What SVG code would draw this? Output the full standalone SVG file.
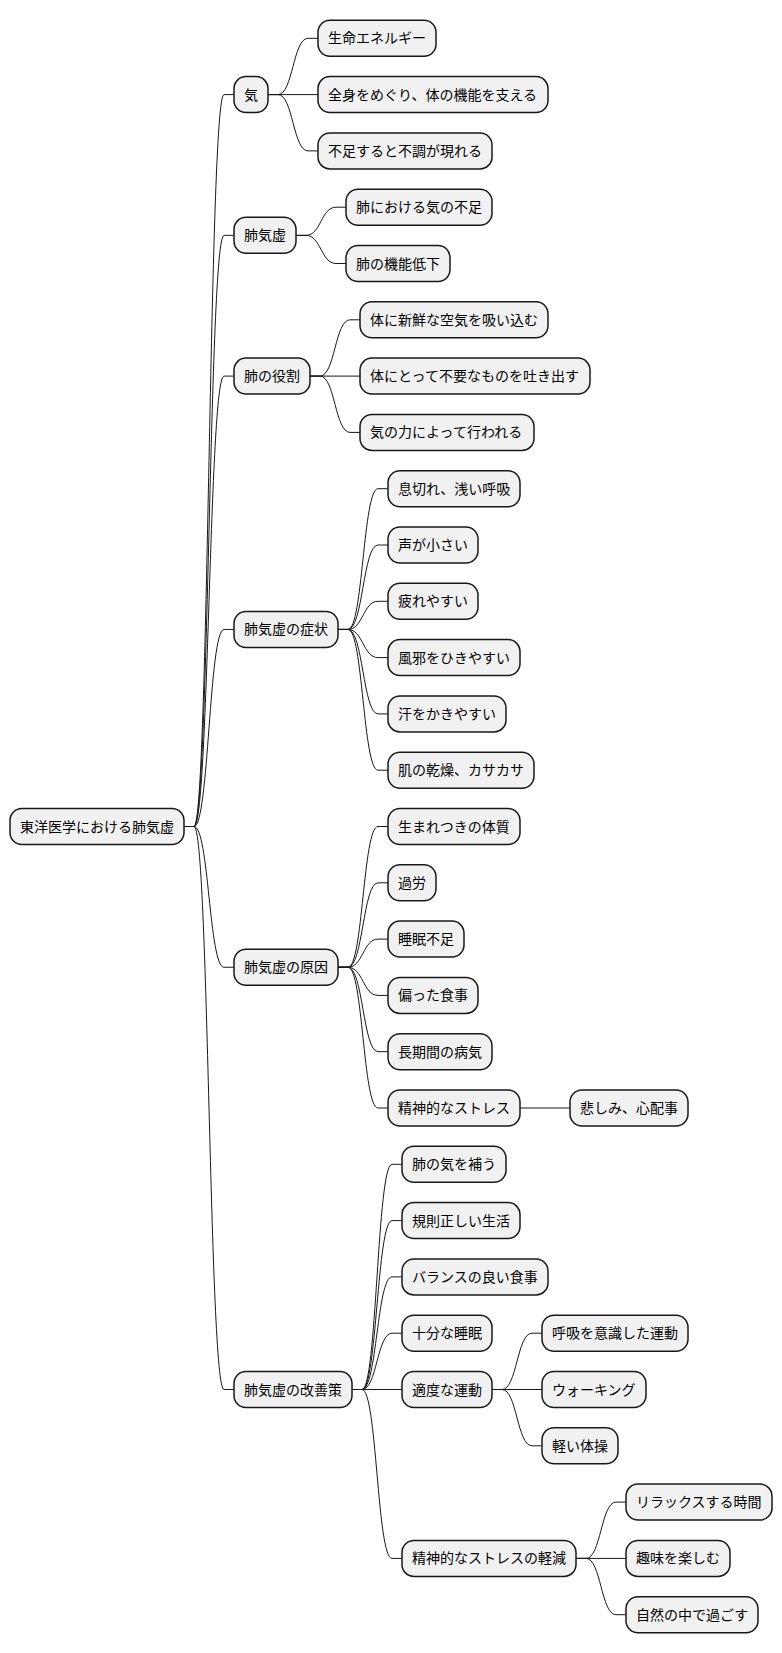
<svg xmlns="http://www.w3.org/2000/svg" width="782" height="1653" viewBox="0 0 782 1653">
<style>
.n rect{fill:#F1F1F1;stroke:#181818;stroke-width:1.5}
.n text{font-family:"Noto Sans CJK JP","Noto Sans",sans-serif;font-size:14px;fill:#000}
#links path{fill:none;stroke:#181818;stroke-width:1}
</style>
<rect width="782" height="1653" fill="#FFFFFF"/>
<g id="links">
<path d="M184,826.5 H194 C209,826.5 209,94.6 224,94.6 H234"/>
<path d="M184,826.5 H194 C209,826.5 209,235.35 224,235.35 H234"/>
<path d="M184,826.5 H194 C209,826.5 209,376.1 224,376.1 H234"/>
<path d="M184,826.5 H194 C209,826.5 209,629.45 224,629.45 H234"/>
<path d="M184,826.5 H194 C209,826.5 209,967.25 224,967.25 H234"/>
<path d="M184,826.5 H194 C209,826.5 209,1389.5 224,1389.5 H234"/>
<path d="M268,94.6 H278 C293,94.6 293,38.3 308,38.3 H318"/>
<path d="M268,94.6 H318"/>
<path d="M268,94.6 H278 C293,94.6 293,150.9 308,150.9 H318"/>
<path d="M296,235.35 H306 C321,235.35 321,207.2 336,207.2 H346"/>
<path d="M296,235.35 H306 C321,235.35 321,263.5 336,263.5 H346"/>
<path d="M310,376.1 H320 C335,376.1 335,319.8 350,319.8 H360"/>
<path d="M310,376.1 H360"/>
<path d="M310,376.1 H320 C335,376.1 335,432.4 350,432.4 H360"/>
<path d="M338,629.45 H348 C363,629.45 363,488.7 378,488.7 H388"/>
<path d="M338,629.45 H348 C363,629.45 363,545 378,545 H388"/>
<path d="M338,629.45 H348 C363,629.45 363,601.3 378,601.3 H388"/>
<path d="M338,629.45 H348 C363,629.45 363,657.6 378,657.6 H388"/>
<path d="M338,629.45 H348 C363,629.45 363,713.9 378,713.9 H388"/>
<path d="M338,629.45 H348 C363,629.45 363,770.2 378,770.2 H388"/>
<path d="M338,967.25 H348 C363,967.25 363,826.5 378,826.5 H388"/>
<path d="M338,967.25 H348 C363,967.25 363,882.8 378,882.8 H388"/>
<path d="M338,967.25 H348 C363,967.25 363,939.1 378,939.1 H388"/>
<path d="M338,967.25 H348 C363,967.25 363,995.4 378,995.4 H388"/>
<path d="M338,967.25 H348 C363,967.25 363,1051.7 378,1051.7 H388"/>
<path d="M338,967.25 H348 C363,967.25 363,1108 378,1108 H388"/>
<path d="M520,1108 H570"/>
<path d="M352,1389.5 H362 C377,1389.5 377,1164.3 392,1164.3 H402"/>
<path d="M352,1389.5 H362 C377,1389.5 377,1220.6 392,1220.6 H402"/>
<path d="M352,1389.5 H362 C377,1389.5 377,1276.9 392,1276.9 H402"/>
<path d="M352,1389.5 H362 C377,1389.5 377,1333.2 392,1333.2 H402"/>
<path d="M352,1389.5 H402"/>
<path d="M352,1389.5 H362 C377,1389.5 377,1558.4 392,1558.4 H402"/>
<path d="M492,1389.5 H502 C517,1389.5 517,1333.2 532,1333.2 H542"/>
<path d="M492,1389.5 H542"/>
<path d="M492,1389.5 H502 C517,1389.5 517,1445.8 532,1445.8 H542"/>
<path d="M576,1558.4 H586 C601,1558.4 601,1502.1 616,1502.1 H626"/>
<path d="M576,1558.4 H626"/>
<path d="M576,1558.4 H586 C601,1558.4 601,1614.7 616,1614.7 H626"/>
</g>
<g id="root" class="n"><rect x="10" y="808.5" width="174" height="36" rx="12"/><text x="20" y="831.5">東洋医学における肺気虚</text></g>
<g id="n1" class="n"><rect x="234" y="76.6" width="34" height="36" rx="12"/><text x="244" y="99.6">気</text></g>
<g id="n1a" class="n"><rect x="318" y="20.3" width="118" height="36" rx="12"/><text x="328" y="43.3">生命エネルギー</text></g>
<g id="n1b" class="n"><rect x="318" y="76.6" width="230" height="36" rx="12"/><text x="328" y="99.6">全身をめぐり、体の機能を支える</text></g>
<g id="n1c" class="n"><rect x="318" y="132.9" width="174" height="36" rx="12"/><text x="328" y="155.9">不足すると不調が現れる</text></g>
<g id="n2" class="n"><rect x="234" y="217.35" width="62" height="36" rx="12"/><text x="244" y="240.35">肺気虚</text></g>
<g id="n2a" class="n"><rect x="346" y="189.2" width="146" height="36" rx="12"/><text x="356" y="212.2">肺における気の不足</text></g>
<g id="n2b" class="n"><rect x="346" y="245.5" width="104" height="36" rx="12"/><text x="356" y="268.5">肺の機能低下</text></g>
<g id="n3" class="n"><rect x="234" y="358.1" width="76" height="36" rx="12"/><text x="244" y="381.1">肺の役割</text></g>
<g id="n3a" class="n"><rect x="360" y="301.8" width="188" height="36" rx="12"/><text x="370" y="324.8">体に新鮮な空気を吸い込む</text></g>
<g id="n3b" class="n"><rect x="360" y="358.1" width="230" height="36" rx="12"/><text x="370" y="381.1">体にとって不要なものを吐き出す</text></g>
<g id="n3c" class="n"><rect x="360" y="414.4" width="174" height="36" rx="12"/><text x="370" y="437.4">気の力によって行われる</text></g>
<g id="n4" class="n"><rect x="234" y="611.45" width="104" height="36" rx="12"/><text x="244" y="634.45">肺気虚の症状</text></g>
<g id="n4a" class="n"><rect x="388" y="470.7" width="132" height="36" rx="12"/><text x="398" y="493.7">息切れ、浅い呼吸</text></g>
<g id="n4b" class="n"><rect x="388" y="527" width="90" height="36" rx="12"/><text x="398" y="550">声が小さい</text></g>
<g id="n4c" class="n"><rect x="388" y="583.3" width="90" height="36" rx="12"/><text x="398" y="606.3">疲れやすい</text></g>
<g id="n4d" class="n"><rect x="388" y="639.6" width="132" height="36" rx="12"/><text x="398" y="662.6">風邪をひきやすい</text></g>
<g id="n4e" class="n"><rect x="388" y="695.9" width="118" height="36" rx="12"/><text x="398" y="718.9">汗をかきやすい</text></g>
<g id="n4f" class="n"><rect x="388" y="752.2" width="146" height="36" rx="12"/><text x="398" y="775.2">肌の乾燥、カサカサ</text></g>
<g id="n5" class="n"><rect x="234" y="949.25" width="104" height="36" rx="12"/><text x="244" y="972.25">肺気虚の原因</text></g>
<g id="n5a" class="n"><rect x="388" y="808.5" width="132" height="36" rx="12"/><text x="398" y="831.5">生まれつきの体質</text></g>
<g id="n5b" class="n"><rect x="388" y="864.8" width="48" height="36" rx="12"/><text x="398" y="887.8">過労</text></g>
<g id="n5c" class="n"><rect x="388" y="921.1" width="76" height="36" rx="12"/><text x="398" y="944.1">睡眠不足</text></g>
<g id="n5d" class="n"><rect x="388" y="977.4" width="90" height="36" rx="12"/><text x="398" y="1000.4">偏った食事</text></g>
<g id="n5e" class="n"><rect x="388" y="1033.7" width="104" height="36" rx="12"/><text x="398" y="1056.7">長期間の病気</text></g>
<g id="n5f" class="n"><rect x="388" y="1090" width="132" height="36" rx="12"/><text x="398" y="1113">精神的なストレス</text></g>
<g id="n5f1" class="n"><rect x="570" y="1090" width="118" height="36" rx="12"/><text x="580" y="1113">悲しみ、心配事</text></g>
<g id="n6" class="n"><rect x="234" y="1371.5" width="118" height="36" rx="12"/><text x="244" y="1394.5">肺気虚の改善策</text></g>
<g id="n6a" class="n"><rect x="402" y="1146.3" width="104" height="36" rx="12"/><text x="412" y="1169.3">肺の気を補う</text></g>
<g id="n6b" class="n"><rect x="402" y="1202.6" width="118" height="36" rx="12"/><text x="412" y="1225.6">規則正しい生活</text></g>
<g id="n6c" class="n"><rect x="402" y="1258.9" width="146" height="36" rx="12"/><text x="412" y="1281.9">バランスの良い食事</text></g>
<g id="n6d" class="n"><rect x="402" y="1315.2" width="90" height="36" rx="12"/><text x="412" y="1338.2">十分な睡眠</text></g>
<g id="n6e" class="n"><rect x="402" y="1371.5" width="90" height="36" rx="12"/><text x="412" y="1394.5">適度な運動</text></g>
<g id="n6e1" class="n"><rect x="542" y="1315.2" width="146" height="36" rx="12"/><text x="552" y="1338.2">呼吸を意識した運動</text></g>
<g id="n6e2" class="n"><rect x="542" y="1371.5" width="104" height="36" rx="12"/><text x="552" y="1394.5">ウォーキング</text></g>
<g id="n6e3" class="n"><rect x="542" y="1427.8" width="76" height="36" rx="12"/><text x="552" y="1450.8">軽い体操</text></g>
<g id="n6f" class="n"><rect x="402" y="1540.4" width="174" height="36" rx="12"/><text x="412" y="1563.4">精神的なストレスの軽減</text></g>
<g id="n6f1" class="n"><rect x="626" y="1484.1" width="146" height="36" rx="12"/><text x="636" y="1507.1">リラックスする時間</text></g>
<g id="n6f2" class="n"><rect x="626" y="1540.4" width="104" height="36" rx="12"/><text x="636" y="1563.4">趣味を楽しむ</text></g>
<g id="n6f3" class="n"><rect x="626" y="1596.7" width="132" height="36" rx="12"/><text x="636" y="1619.7">自然の中で過ごす</text></g>
</svg>
